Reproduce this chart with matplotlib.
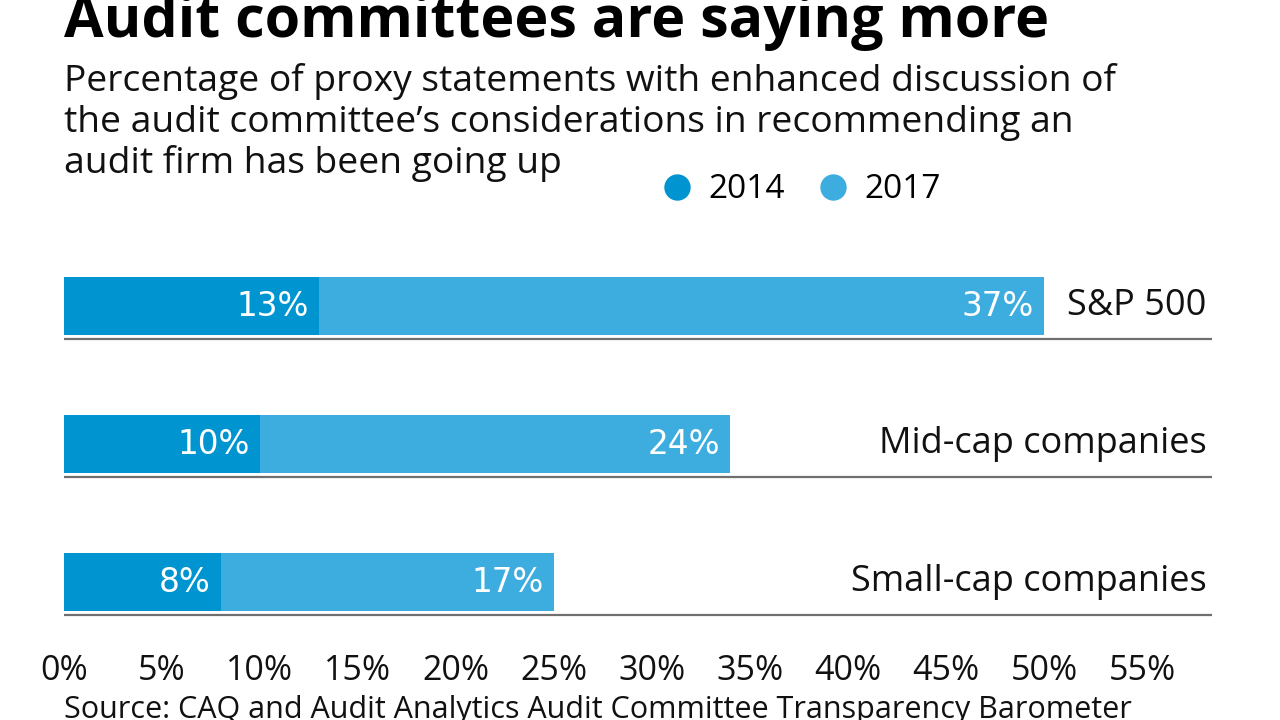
import matplotlib.pyplot as plt
from matplotlib.lines import Line2D
import matplotlib.transforms as mtransforms

plt.rcParams['font.family'] = ['Open Sans', 'DejaVu Sans']

categories = ['S&P 500', 'Mid-cap companies', 'Small-cap companies']
v2014 = [13, 10, 8]
v2017 = [37, 24, 17]
xticks = [0, 5, 10, 15, 20, 25, 30, 35, 40, 45, 50, 55]

subtitle = ['Percentage of proxy statements with enhanced discussion of',
            'the audit committee\u2019s considerations in recommending an',
            'audit firm has been going up']

c2014 = '#0095D0'
c2017 = '#3DADDF'

fig = plt.figure(figsize=(12.8, 7.2), dpi=100)
ax = fig.add_axes([64 / 1280, 1 - 651 / 720, (1212 - 64) / 1280, 414 / 720])

ypos = list(range(len(categories)))
bh = 58 / 138
ax.barh(ypos, v2014, height=bh, color=c2014, linewidth=0)
ax.barh(ypos, v2017, left=v2014, height=bh, color=c2017, linewidth=0)

xmax = (1212 - 64) / 19.6
ax.set_xlim(0, xmax)
ax.set_ylim(2.5, -0.5)

# grey rule under each bar
for y in ypos:
    ax.hlines(y + bh / 2 + 4 / 138, 0, xmax, color='#6f6f6f', linewidth=1.6)

# value labels inside the segments
for y, a, b in zip(ypos, v2014, v2017):
    ax.annotate(f'{a}%', (a, y), xytext=(-10, 0), textcoords='offset pixels',
                ha='right', va='center', color='white', fontsize=23.5,
                family='DejaVu Sans')
    ax.annotate(f'{b}%', (a + b, y), xytext=(-10, 0), textcoords='offset pixels',
                ha='right', va='center', color='white', fontsize=23.5,
                family='DejaVu Sans')

# category names at the right end
trans = mtransforms.blended_transform_factory(ax.transAxes, ax.transData)
for y, name in zip(ypos, categories):
    ax.text(0.995, y, name, transform=trans, ha='right', va='center',
            fontsize=26, color='#111111')

ax.set_xticks(xticks)
ax.set_xticklabels([f'{t}%' for t in xticks])
ax.set_yticks([])
ax.tick_params(axis='x', length=0, pad=2, labelsize=24.5, colors='#111111')
for s in ax.spines.values():
    s.set_visible(False)

fig.text(64 / 1280, 1 - 37 / 720, 'Audit committees are saying more',
         fontsize=41.3, fontweight='bold', ha='left', va='baseline')
for i, line in enumerate(subtitle):
    fig.text(64 / 1280, 1 - (91 + 41 * i) / 720, line,
             fontsize=26.8, ha='left', va='baseline', color='#111111')

handles = [Line2D([], [], marker='o', linestyle='none', markersize=19,
                  markerfacecolor=c, markeredgewidth=0) for c in (c2014, c2017)]
fig.legend(handles, ['2014', '2017'], loc='center left',
           bbox_to_anchor=(660 / 1280, 1 - 190 / 720), ncol=2, frameon=False,
           fontsize=24, handlelength=1.0, handletextpad=0.45,
           columnspacing=0.95, borderaxespad=0, borderpad=0)

fig.text(64 / 1280, 1 - 718 / 720,
         'Source: CAQ and Audit Analytics Audit Committee Transparency Barometer',
         fontsize=22, ha='left', va='baseline', color='#111111')

fig.savefig('out.png', dpi=100)
